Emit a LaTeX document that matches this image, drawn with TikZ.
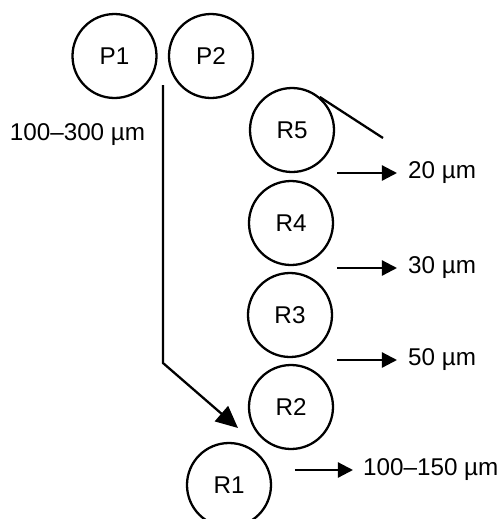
\documentclass[tikz,border=0pt]{standalone}
\usepackage{fontspec}
\setmainfont{Liberation Sans}
\usetikzlibrary{arrows.meta}

\begin{document}
\begin{tikzpicture} [line width = 1.3pt, font=\fontsize{13.8}{16}\selectfont,
  roll/.style={draw, circle, minimum size=1.68cm, inner sep=0pt},
  gap/.style={anchor=west, inner sep=0pt},
  exit/.style={-{Triangle[length=0.3cm, width=0.3cm]}},
  feed/.style={-{Triangle[length=0.44cm, width=0.4cm]}}]

\useasboundingbox (0,0) rectangle (10.02,-10.38);

\node at (2.29,-1.12) [roll] (p1) {P1};
\node at (4.22,-1.12) [roll] (p2) {P2};
\node at (5.84,-2.6) [roll] (r5) {R5};
\node at (5.82,-4.46) [roll] (r4) {R4};
\node at (5.80,-6.3) [roll] (r3) {R3};
\node at (5.82,-8.14) [roll] (r2) {R2};
\node at (4.58,-9.7) [roll] (r1) {R1};

\node at (1.55,-2.7) (entry) {100--300 µm};

\coordinate (top) at (3.26,-1.7);
\coordinate (bend) at (3.26,-7.26);
\coordinate (tip) at (4.76,-8.56);
\path [draw, feed] (top) -- (bend) -- (tip);

\coordinate (tail) at (7.66,-2.76);
\draw (r5.50) -- (tail);

\coordinate (s20) at (6.74,-3.46);
\coordinate (e20) at (7.94,-3.46);
\node at (8.14,-3.46) [gap] (l20) {20 µm};
\coordinate (s30) at (6.74,-5.36);
\coordinate (e30) at (7.94,-5.36);
\node at (8.14,-5.36) [gap] (l30) {30 µm};
\coordinate (s50) at (6.74,-7.2);
\coordinate (e50) at (7.94,-7.2);
\node at (8.14,-7.2) [gap] (l50) {50 µm};
\coordinate (s100) at (5.9,-9.4);
\coordinate (e100) at (7.06,-9.4);
\node at (7.24,-9.4) [gap] (l100) {100--150 µm};

\path [draw, exit] (s20) -- (e20);
\path [draw, exit] (s30) -- (e30);
\path [draw, exit] (s50) -- (e50);
\path [draw, exit] (s100) -- (e100);

\end{tikzpicture}
\end{document}
